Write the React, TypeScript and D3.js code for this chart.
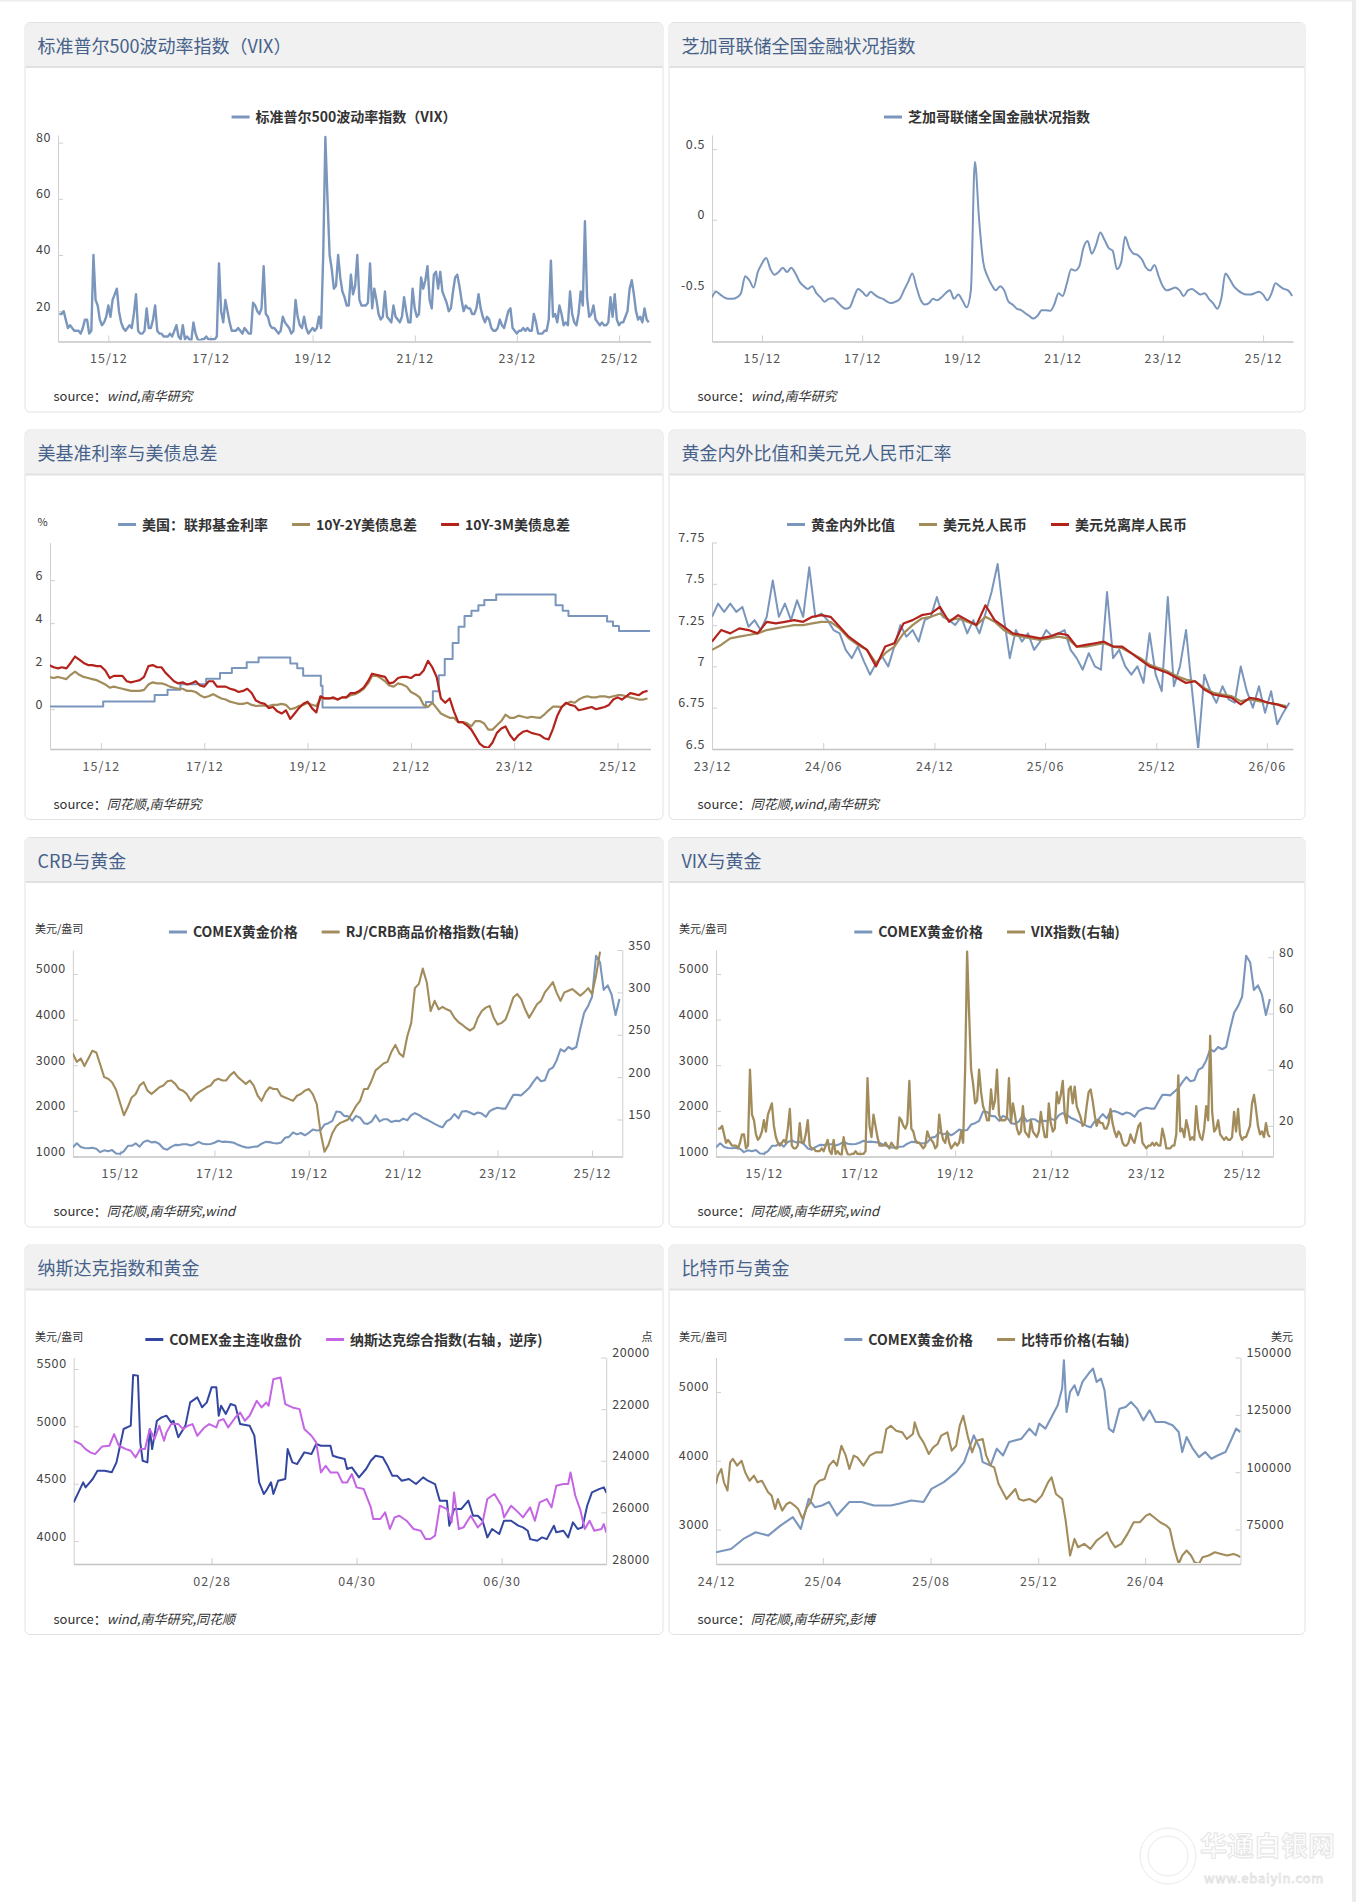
import { useEffect, useRef } from 'react';
import * as d3 from 'd3';

type Pt = [Date, number];

// ---------- data ----------

// VIX, roughly half-monthly from 2014-12-16
const vixHalfMonth = [
  19,
  19, 20, 17, 14, 15, 14, 13, 13, 13, 12, 14, 17, 17, 12, 13, 40, 24, 22, 17, 15, 16, 18, 22, 18,
  24, 26, 28, 20, 16, 14, 13, 14, 15, 14, 19, 26, 13, 12, 12, 13, 21, 14, 14, 17, 22, 13, 12, 12,
  11, 11, 11, 12, 11, 13, 15, 11, 10, 15, 10, 11, 10, 9.5, 16, 12, 10, 9.5, 10, 10, 11, 10, 10, 10,
  10, 11, 37, 20, 16, 24, 20, 16, 13, 13, 13, 14, 13, 12, 14, 13, 12, 12, 23, 22, 20, 19, 21, 36,
  19, 18, 15, 14, 14, 13, 12, 13, 18, 16, 15, 14, 12, 13, 24, 18, 15, 14, 18, 14, 12, 13, 14, 13,
  14, 18, 14, 40, 82, 60, 40, 35, 28, 29, 40, 32, 27, 25, 22, 22, 33, 26, 29, 40, 24, 22, 22, 22,
  23, 37, 21, 28, 24, 19, 17, 18, 27, 18, 17, 16, 22, 18, 17, 16, 18, 25, 20, 16, 16, 28, 21, 18,
  19, 32, 28, 31, 36, 24, 21, 33, 34, 28, 34, 27, 25, 23, 20, 21, 27, 32, 33, 29, 24, 20, 22, 21,
  21, 19, 19, 21, 26, 21, 18, 16, 18, 17, 14, 13, 13, 14, 17, 15, 14, 17, 20, 21, 14, 13, 12, 13,
  13, 14, 13, 14, 13, 13, 19, 16, 12, 12, 12, 13, 13, 17, 38, 18, 19, 16, 22, 19, 15, 16, 15, 27,
  19, 16, 15, 19, 27, 22, 52, 25, 18, 19, 22, 17, 16, 15, 16, 15, 15, 16, 25, 18, 26, 17, 15, 16,
  16, 18, 20, 28, 31, 26, 20, 17, 18, 16, 21, 17, 16,
];

// Chicago Fed NFCI, monthly from 2014-12
const nfciMonthly = [
  -0.55, -0.51, -0.53, -0.55, -0.56, -0.56, -0.55, -0.52, -0.40, -0.43, -0.48, -0.37,
  -0.31, -0.27, -0.35, -0.39, -0.37, -0.34, -0.37, -0.34, -0.38, -0.44, -0.47, -0.49,
  -0.47, -0.52, -0.55, -0.58, -0.56, -0.555, -0.58, -0.61, -0.63, -0.62, -0.55, -0.49,
  -0.51, -0.54, -0.51, -0.53, -0.55, -0.56, -0.58, -0.59, -0.58, -0.56, -0.50, -0.44,
  -0.38, -0.48, -0.57, -0.60, -0.59, -0.56, -0.57, -0.55, -0.52, -0.50, -0.56, -0.53,
  -0.57, -0.62, -0.50, 0.41, 0.0, -0.30, -0.40, -0.46, -0.50, -0.47, -0.50, -0.58,
  -0.60, -0.63, -0.64, -0.66, -0.68, -0.70, -0.68, -0.64, -0.64, -0.645, -0.60, -0.52,
  -0.54, -0.45, -0.35, -0.36, -0.33, -0.20, -0.15, -0.24, -0.18, -0.09, -0.14, -0.20,
  -0.22, -0.35, -0.30, -0.12, -0.20, -0.24, -0.25, -0.28, -0.34, -0.36, -0.32, -0.40,
  -0.47, -0.50, -0.49, -0.48, -0.50, -0.54, -0.50, -0.49, -0.51, -0.53, -0.52, -0.56,
  -0.59, -0.63, -0.55, -0.38, -0.42, -0.47, -0.50, -0.52, -0.53, -0.53, -0.52, -0.51,
  -0.53, -0.57, -0.52, -0.45, -0.47, -0.49, -0.50, -0.54,
];

// Fed funds rate: [change date, level]
const fedSteps: [string, number][] = [
  ['2014-12-01', 0.12], ['2015-12-17', 0.36], ['2016-12-15', 0.66], ['2017-03-16', 0.91],
  ['2017-06-15', 1.16], ['2017-12-14', 1.42], ['2018-03-22', 1.68], ['2018-06-14', 1.91],
  ['2018-09-27', 2.18], ['2018-12-20', 2.40], ['2019-08-01', 2.13], ['2019-09-19', 1.90],
  ['2019-10-31', 1.55], ['2020-03-04', 1.09], ['2020-03-16', 0.08], ['2022-03-17', 0.33],
  ['2022-05-05', 0.83], ['2022-06-16', 1.58], ['2022-07-28', 2.33], ['2022-09-22', 3.08],
  ['2022-11-03', 3.83], ['2022-12-15', 4.33], ['2023-02-02', 4.58], ['2023-03-23', 4.83],
  ['2023-05-04', 5.08], ['2023-07-27', 5.33], ['2024-09-19', 4.83], ['2024-11-08', 4.58],
  ['2024-12-19', 4.33], ['2025-09-18', 4.08], ['2025-10-30', 3.87], ['2025-12-11', 3.64],
  ['2026-07-20', 3.64],
];

// 10Y-2Y spread, monthly from 2014-12
const spread2y = [
  1.5,
  1.45, 1.5, 1.45, 1.4, 1.6, 1.75, 1.6, 1.5, 1.45, 1.4, 1.35, 1.25,
  1.15, 1.0, 1.05, 1.0, 0.95, 0.9, 0.85, 0.85, 0.85, 0.9, 1.15, 1.25,
  1.2, 1.2, 1.15, 1.05, 1.0, 0.95, 0.95, 0.85, 0.85, 0.8, 0.65, 0.55,
  0.6, 0.7, 0.6, 0.5, 0.45, 0.35, 0.3, 0.25, 0.25, 0.3, 0.2, 0.15,
  0.17, 0.17, 0.15, 0.2, 0.2, 0.25, 0.2, 0.0, 0.05, 0.15, 0.2, 0.3,
  0.2, 0.15, 0.5, 0.5, 0.5, 0.5, 0.45, 0.55, 0.55, 0.65, 0.7, 0.8,
  0.95, 1.2, 1.55, 1.55, 1.45, 1.3, 1.1, 1.05, 1.2, 1.15, 1.05, 0.8,
  0.7, 0.55, 0.2, 0.1, 0.3, 0.05, -0.2, -0.3, -0.4, -0.4, -0.6, -0.6,
  -0.65, -0.8, -0.55, -0.55, -0.65, -0.95, -0.95, -0.75, -0.55, -0.25, -0.4, -0.4,
  -0.3, -0.35, -0.4, -0.35, -0.38, -0.4, -0.25, -0.05, 0.12, 0.12, 0.1, 0.25,
  0.35, 0.3, 0.45, 0.55, 0.6, 0.55, 0.55, 0.6, 0.6, 0.55, 0.6, 0.65,
  0.65, 0.6, 0.55, 0.5, 0.45, 0.45, 0.5,
];

// 10Y-3M spread, monthly from 2014-12
const spread3m = [
  2.05,
  1.95, 1.9, 1.95, 1.9, 2.15, 2.45, 2.3, 2.15, 2.05, 2.05, 2.0, 2.0,
  1.8, 1.45, 1.55, 1.55, 1.55, 1.3, 1.25, 1.3, 1.35, 1.5, 2.0, 2.05,
  1.95, 1.95, 1.7, 1.5, 1.3, 1.2, 1.25, 1.15, 1.2, 1.3, 1.1, 1.05,
  1.3, 1.3, 1.05, 1.05, 1.05, 0.95, 0.9, 0.8, 0.85, 0.95, 0.75, 0.4,
  0.3, 0.25, 0.05, 0.1, -0.1, -0.2, -0.05, -0.45, -0.2, 0.05, 0.25, 0.35,
  0.05, -0.15, 0.6, 0.5, 0.5, 0.55, 0.45, 0.55, 0.55, 0.75, 0.75, 0.85,
  1.0, 1.3, 1.65, 1.6, 1.55, 1.5, 1.2, 1.25, 1.45, 1.5, 1.5, 1.45,
  1.6, 1.6, 1.8, 2.25, 1.95, 1.5, 0.5, 0.3, 0.5, -0.1, -0.6, -0.6,
  -0.75, -0.95, -1.25, -1.6, -1.75, -1.8, -1.55, -1.1, -0.9, -0.8, -1.2, -1.45,
  -1.2, -1.05, -1.0, -1.1, -1.15, -1.2, -1.35, -1.4, -0.9, -0.3, 0.1, 0.3,
  0.2, 0.15, -0.05, 0.0, 0.05, 0.1, 0.0, 0.05, 0.1, 0.2, 0.45, 0.55,
  0.45, 0.6, 0.75, 0.7, 0.65, 0.8, 0.85,
];

// gold domestic/overseas ratio, every 10 days from 2023-12-01
const goldRatio = [
  7.3, 7.38, 7.33, 7.38, 7.33, 7.36, 7.24, 7.28, 7.22, 7.3,
  7.52, 7.3, 7.38, 7.28, 7.4, 7.3, 7.6, 7.3, 7.32, 7.28,
  7.22, 7.2, 7.1, 7.05, 7.12, 7.03, 6.95, 7.02, 7.06, 7.0,
  7.12, 7.25, 7.18, 7.22, 7.15, 7.28, 7.3, 7.42, 7.3, 7.28,
  7.25, 7.3, 7.2, 7.28, 7.2, 7.32, 7.45, 7.62, 7.3, 7.05,
  7.22, 7.15, 7.2, 7.1, 7.15, 7.22, 7.18, 7.2, 7.22, 7.1,
  7.05, 6.98, 7.08, 7.0, 6.98, 7.45, 7.05, 7.1, 7.0, 6.95,
  7.0, 6.9, 7.2, 6.95, 6.85, 7.42, 6.88, 7.0, 7.22, 6.85,
  6.5, 6.95, 6.85, 6.78, 6.88, 6.8, 6.78, 7.0, 6.85, 6.75,
  6.88, 6.72, 6.85, 6.65, 6.72, 6.78,
];

// USD/CNY and USD/CNH, every 15 days from 2023-12-01
const usdCny = [
  7.1, 7.13, 7.17, 7.18, 7.19, 7.2, 7.22, 7.23, 7.24, 7.25,
  7.25, 7.26, 7.27, 7.27, 7.23, 7.17, 7.13, 7.1, 7.02, 7.08,
  7.12, 7.2, 7.25, 7.29, 7.3, 7.32, 7.28, 7.29, 7.27, 7.25,
  7.3, 7.27, 7.22, 7.19, 7.18, 7.17, 7.16, 7.17, 7.18, 7.17,
  7.12, 7.12, 7.13, 7.14, 7.12, 7.11, 7.08, 7.05, 7.01, 6.99,
  6.97, 6.94, 6.92, 6.91, 6.87, 6.84, 6.83, 6.82, 6.79, 6.8,
  6.79, 6.78, 6.77, 6.76,
];
const usdCnh = [
  7.15, 7.22, 7.2, 7.23, 7.22, 7.2, 7.27, 7.26, 7.27, 7.28,
  7.27, 7.3, 7.31, 7.3, 7.24, 7.18, 7.14, 7.1, 7.0, 7.12,
  7.14, 7.26, 7.28, 7.31, 7.32, 7.36, 7.27, 7.31, 7.28, 7.25,
  7.37, 7.28, 7.24, 7.2, 7.19, 7.18, 7.17, 7.18, 7.2, 7.19,
  7.12, 7.13, 7.14, 7.15, 7.12, 7.12, 7.08, 7.04, 7.0, 6.98,
  6.96, 6.93, 6.9, 6.91, 6.86, 6.83, 6.82, 6.81, 6.77, 6.81,
  6.8, 6.78, 6.77, 6.75,
];

// COMEX gold, monthly from 2014-12
const goldMonthly = [
  1200,
  1290, 1210, 1185, 1180, 1190, 1170, 1095, 1135, 1115, 1140, 1065, 1060,
  1120, 1235, 1235, 1290, 1215, 1320, 1350, 1310, 1320, 1275, 1175, 1150,
  1210, 1255, 1250, 1270, 1270, 1240, 1270, 1320, 1280, 1270, 1275, 1300,
  1345, 1320, 1325, 1315, 1300, 1255, 1225, 1200, 1195, 1215, 1220, 1280,
  1320, 1315, 1295, 1285, 1305, 1410, 1430, 1525, 1485, 1515, 1465, 1520,
  1590, 1570, 1580, 1700, 1730, 1780, 1985, 1975, 1890, 1880, 1780, 1890,
  1850, 1730, 1715, 1770, 1905, 1770, 1815, 1815, 1755, 1785, 1775, 1830,
  1795, 1905, 1950, 1910, 1850, 1810, 1765, 1715, 1670, 1640, 1770, 1820,
  1930, 1835, 1985, 1995, 1965, 1920, 1965, 1940, 1870, 1995, 2040, 2070,
  2050, 2050, 2200, 2350, 2350, 2340, 2420, 2500, 2630, 2740, 2650, 2670,
  2900, 2950, 3100, 3350, 3300, 3400, 3350, 3400, 3800, 4150, 4300, 4500,
  5400, 5250, 4650, 4750, 4550, 4100, 4450,
];

// RJ/CRB index, monthly from 2014-12
const crbMonthly = [
  228,
  218, 222, 213, 222, 231, 229, 215, 200, 198, 194, 185, 170,
  155, 165, 176, 180, 190, 194, 184, 180, 184, 188, 190, 195,
  196, 192, 186, 184, 180, 172, 178, 182, 185, 188, 190, 196,
  198, 196, 196, 202, 206, 200, 196, 192, 196, 190, 178, 172,
  182, 188, 186, 186, 178, 176, 174, 172, 178, 180, 184, 186,
  180, 168, 135, 112, 120, 134, 142, 146, 148, 150, 158, 166,
  172, 186, 186, 196, 208, 212, 216, 218, 230, 238, 228, 224,
  248, 264, 305, 310, 328, 312, 278, 290, 280, 283, 280, 278,
  270, 265, 262, 258, 255, 258, 270, 278, 282, 284, 270, 262,
  264, 268, 280, 294, 298, 292, 280, 270, 278, 286, 290, 300,
  306, 312, 300, 290, 300, 302, 304, 300, 296, 300, 305, 298,
  320, 348,
];

// 2026 daily closes: [day since 2026-01-01, value]
const comexMain2026: [number, number][] = [
  [0, 4337], [2, 4424], [4, 4512], [5, 4468], [8, 4541], [10, 4613], [13, 4613], [16, 4599], [18, 4686], [21, 4977],
  [24, 5006], [25, 5448], [27, 5442], [28, 4860], [29, 4700], [31, 4686], [32, 4977], [33, 4802], [35, 5049], [37, 5078],
  [39, 5093], [41, 5035], [42, 5049], [44, 4904], [47, 5006], [49, 5209], [52, 5253], [54, 5166], [56, 5209], [58, 5340],
  [60, 5340], [61, 5093], [62, 5180], [64, 5108], [66, 5195], [68, 5180], [70, 5020], [74, 5006], [76, 4919], [78, 4512],
  [80, 4410], [81, 4439], [83, 4512], [84, 4410], [86, 4526], [89, 4541], [90, 4802], [92, 4686], [94, 4671], [97, 4773],
  [100, 4758], [102, 4846], [104, 4831], [108, 4831], [109, 4744], [111, 4730], [114, 4715], [115, 4628], [117, 4642], [120, 4555],
  [123, 4628], [125, 4700], [127, 4744], [130, 4730], [132, 4657], [134, 4570], [136, 4570], [138, 4526], [141, 4541], [144, 4497],
  [147, 4555], [149, 4526], [152, 4497], [154, 4352], [157, 4352], [158, 4134], [160, 4279], [163, 4279], [166, 4352], [168, 4221],
  [170, 4221], [172, 4177], [174, 4032], [176, 4105], [179, 4061], [181, 4177], [184, 4177], [187, 4134], [189, 4119], [191, 4090],
  [192, 4017], [195, 4003], [197, 4032], [199, 4017], [202, 4134], [203, 4076], [206, 4090], [208, 4032], [210, 4163], [212, 4105],
  [214, 4119], [216, 4308], [218, 4424], [221, 4453], [223, 4468], [224, 4424], [225, 4439],
];
const nasdaq2026: [number, number][] = [
  [0, 23226], [3, 23355], [5, 23548], [7, 23677], [9, 23742], [12, 23445], [15, 23419], [17, 22968], [19, 23419], [22, 23548],
  [24, 23613], [26, 23871], [28, 23548], [30, 23548], [32, 22774], [34, 23161], [36, 22645], [38, 23226], [39, 22903], [41, 22581],
  [44, 22581], [46, 22774], [48, 22645], [50, 22581], [52, 23032], [55, 22710], [57, 22581], [60, 22710], [61, 22452], [63, 22387],
  [65, 22710], [68, 22323], [70, 22129], [72, 22452], [74, 22258], [77, 21677], [79, 21935], [81, 21742], [82, 21871], [84, 20839],
  [87, 20774], [89, 21806], [92, 21935], [95, 22000], [97, 22774], [100, 23032], [102, 23290], [104, 24452], [106, 24194], [108, 24452],
  [111, 24452], [113, 24839], [115, 24839], [117, 24516], [119, 25032], [122, 25097], [125, 25806], [126, 26258], [129, 26258], [131, 26000],
  [133, 26645], [135, 26194], [137, 26129], [140, 26323], [143, 26645], [146, 26710], [148, 27032], [150, 27032], [152, 26903], [154, 25742],
  [157, 25871], [159, 26387], [160, 25226], [162, 26645], [164, 26581], [167, 26129], [170, 26581], [172, 26387], [174, 25484], [177, 25290],
  [180, 25742], [181, 26194], [184, 25742], [187, 26000], [189, 26194], [192, 25806], [194, 26323], [196, 25613], [199, 25484], [201, 25806],
  [203, 24968], [206, 24903], [208, 24903], [209, 24452], [211, 25355], [213, 25871], [215, 26645], [217, 26323], [219, 26710], [222, 26645],
  [223, 26452], [224, 26774],
];

// since 2024-12-01: [day, value]
const goldSince2024: [number, number][] = [
  [0, 2670], [17, 2718], [31, 2864], [45, 2961], [59, 2913], [73, 3058], [87, 3180], [96, 3010], [105, 3447], [112, 3325],
  [120, 3350], [128, 3400], [137, 3204], [151, 3400], [165, 3400], [179, 3350], [198, 3350], [207, 3374], [221, 3422], [235, 3400],
  [244, 3592], [258, 3690], [272, 3835], [281, 3980], [292, 4369], [299, 4175], [302, 3980], [311, 3932], [318, 4175], [325, 4077],
  [332, 4272], [346, 4320], [355, 4466], [362, 4369], [366, 4539], [373, 4466], [380, 4636], [387, 4806], [392, 5049], [394, 5461],
  [397, 4709], [401, 5000], [406, 5097], [410, 4951], [415, 5146], [422, 5267], [427, 5340], [431, 5146], [436, 5194], [440, 5024],
  [445, 4466], [450, 4417], [457, 4757], [464, 4782], [470, 4854], [477, 4757], [484, 4587], [491, 4733], [498, 4563], [508, 4563],
  [517, 4515], [524, 4417], [528, 4126], [533, 4345], [540, 4175], [547, 4053], [554, 4126], [561, 4029], [568, 4077], [577, 4126],
  [584, 4320], [589, 4466], [594, 4417],
];
const btcSince2024: [number, number][] = [
  [0, 94880], [2, 98500], [6, 101400], [9, 95600], [13, 92000], [16, 104300], [19, 105800], [24, 102900], [29, 105000], [33, 100000],
  [38, 96300], [43, 98500], [47, 95600], [52, 96300], [59, 91250], [63, 89800], [67, 84000], [70, 88350], [75, 83270], [80, 86170],
  [84, 86900], [89, 85450], [93, 84000], [98, 79640], [103, 84720], [107, 86900], [112, 94150], [117, 96300], [123, 97050], [128, 102860],
  [133, 105040], [137, 102860], [142, 111560], [147, 107210], [151, 101400], [156, 107210], [160, 106490], [167, 102860], [174, 107210], [181, 108660],
  [188, 108660], [193, 118820], [198, 120270], [204, 118100], [211, 117370], [216, 114470], [223, 116640], [225, 121720], [230, 115920], [235, 113010],
  [241, 107940], [246, 110840], [251, 112290], [255, 115920], [262, 117370], [267, 109390], [272, 111560], [276, 120270], [280, 124620], [285, 115920],
  [290, 108660], [295, 113740], [302, 114470], [306, 107210], [311, 102860], [315, 102130], [320, 94880], [325, 91250], [329, 88350], [334, 90530],
  [339, 92700], [343, 88350], [348, 87620], [355, 88350], [362, 86900], [369, 89800], [376, 95600], [380, 97780], [385, 90530], [392, 88350],
  [396, 78920], [401, 63700], [406, 70940], [410, 67310], [417, 68760], [424, 66580], [431, 70210], [436, 71660], [443, 73840], [447, 70210],
  [452, 67310], [459, 68760], [466, 73110], [473, 78190], [480, 78190], [487, 81090], [491, 81820], [496, 80370], [503, 78190], [510, 76740],
  [514, 75290], [519, 66580], [524, 60050], [528, 63700], [533, 65860], [538, 63700], [542, 60780], [547, 60050], [551, 62950], [558, 63700],
  [565, 65130], [572, 64400], [579, 63700], [586, 64400], [591, 63700], [594, 62950],
];

// ---------- helpers ----------
const W = 1356;
const H = 1902;
const PANEL_H = 390.5;
const HEADER_H = 45;
const PLOT_TOP = 113;
const PLOT_BOTTOM = 319.5;
const FONT = '"Noto Sans CJK SC", "Noto Sans", sans-serif';

const STEEL = '#7a96bc';
const GOLD = '#a28c5c';
const RED = '#b3231c';
const NAVY = '#3447a0';
const ORCHID = '#c466e4';

const day = d3.timeParse('%Y-%m-%d');
const D = (s: string) => day(s)!;

const monthly = (start: string, vals: number[]): Pt[] =>
  vals.map((v, i) => [d3.timeMonth.offset(D(start), i), v]);
const spaced = (start: string, stepDays: number, vals: number[]): Pt[] =>
  vals.map((v, i) => [new Date(D(start).getTime() + i * stepDays * 864e5), v]);
const byDay = (start: string, pairs: [number, number][]): Pt[] =>
  pairs.map(([d, v]) => [d3.timeDay.offset(D(start), d), v]);

type AxisSpec = { domain: [number, number]; ticks: number[] };
type SeriesSpec = { pts: Pt[]; color: string; axis?: 'R'; width?: number; curve?: d3.CurveFactory };
type PanelSpec = {
  x: number; y: number; w: number;
  title: string;
  legend: [string, string][];
  left: number; right: number;
  xDomain: [Date, Date]; xTicks: Date[]; xFmt: string;
  yL: AxisSpec; yR?: AxisSpec;
  series: SeriesSpec[];
  unitL?: string; unitR?: string; unitRx?: number;
  source: string;
};

const longTicks = ['2015-12-01', '2017-12-01', '2019-12-01', '2021-12-01', '2023-12-01', '2025-12-01'].map(D);

const LX = 24.5, LW = 639, RX = 668.5, RW = 637;
const ROWS = [22, 429.5, 837, 1244.5];

function panels(): PanelSpec[] {
  const vix = spaced('2014-12-16', 365.25 / 24, vixHalfMonth);
  const gold = monthly('2014-12-01', goldMonthly);
  return [
    {
      x: LX, y: ROWS[0], w: LW, title: '标准普尔500波动率指数（VIX）',
      legend: [['标准普尔500波动率指数（VIX）', STEEL]],
      left: 33.5, right: 626,
      xDomain: [D('2014-12-06'), D('2026-07-14')], xTicks: longTicks, xFmt: '%y/%m',
      yL: { domain: [9.2, 82.7], ticks: [20, 40, 60, 80] },
      series: [{ pts: vix, color: STEEL, width: 2.4 }],
      source: 'wind,南华研究',
    },
    {
      x: RX, y: ROWS[0], w: RW, title: '芝加哥联储全国金融状况指数',
      legend: [['芝加哥联储全国金融状况指数', STEEL]],
      left: 43.5, right: 624.5,
      xDomain: [D('2014-12-02'), D('2026-07-07')], xTicks: longTicks, xFmt: '%y/%m',
      yL: { domain: [-0.862, 0.6], ticks: [-0.5, 0, 0.5] },
      series: [{ pts: monthly('2014-12-01', nfciMonthly), color: STEEL, width: 2, curve: d3.curveMonotoneX }],
      source: 'wind,南华研究',
    },
    {
      x: LX, y: ROWS[1], w: LW, title: '美基准利率与美债息差',
      legend: [['美国：联邦基金利率', STEEL], ['10Y-2Y美债息差', GOLD], ['10Y-3M美债息差', RED]],
      left: 25.5, right: 626,
      xDomain: [D('2014-12-06'), D('2026-07-22')], xTicks: longTicks, xFmt: '%y/%m',
      yL: { domain: [-1.85, 7.75], ticks: [0, 2, 4, 6] },
      series: [
        { pts: fedSteps.map(([d, v]) => [D(d), v] as Pt), color: STEEL, width: 2, curve: d3.curveStepAfter },
        { pts: monthly('2014-12-01', spread2y), color: GOLD, width: 2.2 },
        { pts: monthly('2014-12-01', spread3m), color: RED, width: 2.2 },
      ],
      unitL: '%',
      source: '同花顺,南华研究',
    },
    {
      x: RX, y: ROWS[1], w: RW, title: '黄金内外比值和美元兑人民币汇率',
      legend: [['黄金内外比值', STEEL], ['美元兑人民币', GOLD], ['美元兑离岸人民币', RED]],
      left: 43.5, right: 624.5,
      xDomain: [D('2023-12-01'), D('2026-07-14')],
      xTicks: ['2023-12-01', '2024-06-01', '2024-12-01', '2025-06-01', '2025-12-01', '2026-06-01'].map(D),
      xFmt: '%y/%m',
      yL: { domain: [6.5, 7.75], ticks: [6.5, 6.75, 7, 7.25, 7.5, 7.75] },
      series: [
        { pts: spaced('2023-12-01', 10, goldRatio), color: STEEL, width: 2 },
        { pts: spaced('2023-12-01', 15, usdCny), color: GOLD, width: 2.2 },
        { pts: spaced('2023-12-01', 15, usdCnh), color: RED, width: 2.2 },
      ],
      source: '同花顺,wind,南华研究',
    },
    {
      x: LX, y: ROWS[2], w: LW, title: 'CRB与黄金',
      legend: [['COMEX黄金价格', STEEL], ['RJ/CRB商品价格指数(右轴)', GOLD]],
      left: 48.4, right: 597.8,
      xDomain: [D('2014-12-02'), D('2026-07-23')], xTicks: longTicks, xFmt: '%y/%m',
      yL: { domain: [1000, 5525], ticks: [1000, 2000, 3000, 4000, 5000] },
      yR: { domain: [106.3, 350], ticks: [150, 200, 250, 300, 350] },
      series: [
        { pts: gold, color: STEEL, width: 2.1 },
        { pts: monthly('2014-12-01', crbMonthly), color: GOLD, axis: 'R', width: 2.1 },
      ],
      unitL: '美元/盎司',
      source: '同花顺,南华研究,wind',
    },
    {
      x: RX, y: ROWS[2], w: RW, title: 'VIX与黄金',
      legend: [['COMEX黄金价格', STEEL], ['VIX指数(右轴)', GOLD]],
      left: 47.5, right: 604.5,
      xDomain: [D('2014-11-30'), D('2026-07-25')], xTicks: longTicks, xFmt: '%y/%m',
      yL: { domain: [1000, 5525], ticks: [1000, 2000, 3000, 4000, 5000] },
      yR: { domain: [9.1, 82.6], ticks: [20, 40, 60, 80] },
      series: [
        { pts: gold, color: STEEL, width: 2.1 },
        { pts: vix, color: GOLD, axis: 'R', width: 2.3 },
      ],
      unitL: '美元/盎司',
      source: '同花顺,南华研究,wind',
    },
    {
      x: LX, y: ROWS[3], w: LW, title: '纳斯达克指数和黄金',
      legend: [['COMEX金主连收盘价', NAVY], ['纳斯达克综合指数(右轴，逆序)', ORCHID]],
      left: 49.2, right: 581.7,
      xDomain: [D('2026-01-01'), D('2026-08-13')],
      xTicks: ['2026-02-28', '2026-04-30', '2026-06-30'].map(D), xFmt: '%m/%d',
      yL: { domain: [3800, 5600], ticks: [4000, 4500, 5000, 5500] },
      yR: { domain: [28000, 20000], ticks: [20000, 22000, 24000, 26000, 28000] },
      series: [
        { pts: byDay('2026-01-01', comexMain2026), color: NAVY, width: 2 },
        { pts: byDay('2026-01-01', nasdaq2026), color: ORCHID, axis: 'R', width: 2 },
      ],
      unitL: '美元/盎司', unitR: '点', unitRx: 622.5,
      source: 'wind,南华研究,同花顺',
    },
    {
      x: RX, y: ROWS[3], w: RW, title: '比特币与黄金',
      legend: [['COMEX黄金价格', STEEL], ['比特币价格(右轴)', GOLD]],
      left: 47.5, right: 572,
      xDomain: [D('2024-12-01'), D('2026-07-18')],
      xTicks: ['2024-12-01', '2025-04-01', '2025-08-01', '2025-12-01', '2026-04-01'].map(D), xFmt: '%y/%m',
      yL: { domain: [2500, 5500], ticks: [3000, 4000, 5000] },
      yR: { domain: [60000, 150000], ticks: [75000, 100000, 125000, 150000] },
      series: [
        { pts: byDay('2024-12-01', goldSince2024), color: STEEL, width: 2.1 },
        { pts: byDay('2024-12-01', btcSince2024), color: GOLD, axis: 'R', width: 2.1 },
      ],
      unitL: '美元/盎司', unitR: '美元', unitRx: 613.5,
      source: '同花顺,南华研究,彭博',
    },
  ];
}

function styleAxis(a: any) {
  a.attr('font-family', FONT).attr('font-size', 12.5);
  a.select('.domain').attr('stroke', '#cfcfcf');
  a.selectAll('.tick line').attr('stroke', '#cfcfcf');
  a.selectAll('.tick text').attr('fill', '#444').attr('letter-spacing', 0.6);
}

function drawPanel(root: any, p: PanelSpec, idx: number) {
  const g = root.append('g').attr('transform', `translate(${p.x},${p.y})`);
  const w = p.w;

  // frame + header
  g.append('rect').attr('x', 0.5).attr('y', 0.5).attr('width', w - 1).attr('height', PANEL_H - 1)
    .attr('rx', 5).attr('fill', '#fff').attr('stroke', '#e2e2e2');
  g.append('path')
    .attr('d', `M1,${HEADER_H}V5.5Q1,1 5.5,1H${w - 5.5}Q${w - 1},1 ${w - 1},5.5V${HEADER_H}Z`)
    .attr('fill', '#f1f1f1');
  g.append('line').attr('x1', 1).attr('x2', w - 1).attr('y1', HEADER_H).attr('y2', HEADER_H)
    .attr('stroke', '#e1e1e1').attr('stroke-width', 2);
  g.append('text').attr('x', 13).attr('y', 30.5).attr('font-size', 18).attr('fill', '#46628a').text(p.title);

  // legend, centred
  const lg = g.append('g');
  let cx = 0;
  p.legend.forEach(([label, color]) => {
    const it = lg.append('g').attr('transform', `translate(${cx},0)`);
    it.append('line').attr('x1', 0).attr('x2', 18).attr('y1', 95).attr('y2', 95)
      .attr('stroke', color).attr('stroke-width', 3);
    const t = it.append('text').attr('x', 24).attr('y', 100).attr('font-size', 14)
      .attr('font-weight', 'bold').attr('fill', '#333').text(label);
    cx += 24 + (t.node() as SVGTextElement).getComputedTextLength() + 24;
  });
  lg.attr('transform', `translate(${(w - (cx - 24)) / 2},0)`);

  // scales
  const x = d3.scaleTime().domain(p.xDomain).range([p.left, p.right]);
  const yL = d3.scaleLinear().domain(p.yL.domain).range([PLOT_BOTTOM, PLOT_TOP]);
  const yR = p.yR ? d3.scaleLinear().domain(p.yR.domain).range([PLOT_BOTTOM, PLOT_TOP]) : null;

  // axes
  const axL = g.append('g').attr('transform', `translate(${p.left},0)`)
    .call(d3.axisLeft(yL).tickValues(p.yL.ticks).tickFormat((v: any) => String(v))
      .tickSize(-5).tickSizeOuter(0).tickPadding(7));
  styleAxis(axL);
  axL.selectAll('.tick text').attr('dy', '-0.08em');

  if (yR && p.yR) {
    const axR = g.append('g').attr('transform', `translate(${p.right},0)`)
      .call(d3.axisRight(yR).tickValues(p.yR.ticks).tickFormat((v: any) => String(v))
        .tickSize(-5).tickSizeOuter(0).tickPadding(6));
    styleAxis(axR);
    axR.selectAll('.tick text').attr('dy', '-0.08em');
  }

  const fmt = d3.timeFormat(p.xFmt);
  const axX = g.append('g').attr('transform', `translate(0,${PLOT_BOTTOM})`)
    .call(d3.axisBottom(x).tickValues(p.xTicks).tickFormat((d: any) => fmt(d))
      .tickSize(-6).tickSizeOuter(0).tickPadding(13));
  styleAxis(axX);
  axX.select('.domain').attr('stroke', '#c4c4c4').attr('stroke-width', 1.5);
  axX.selectAll('.tick text').attr('letter-spacing', 1).attr('fill', '#555');

  // series
  const cid = `plotclip${idx}`;
  g.append('clipPath').attr('id', cid).append('rect')
    .attr('x', p.left).attr('y', PLOT_TOP - 2)
    .attr('width', p.right - p.left).attr('height', PLOT_BOTTOM - PLOT_TOP + 1);
  p.series.forEach((s) => {
    const ys = s.axis === 'R' && yR ? yR : yL;
    const line = d3.line<Pt>().x((d) => x(d[0])).y((d) => ys(d[1])).curve(s.curve ?? d3.curveLinear);
    g.append('path').attr('clip-path', `url(#${cid})`).attr('d', line(s.pts))
      .attr('fill', 'none').attr('stroke', s.color).attr('stroke-width', s.width ?? 1.8)
      .attr('stroke-linejoin', 'round');
  });

  // units
  if (p.unitL) {
    g.append('text').attr('x', p.unitL === '%' ? 13 : 10.5).attr('y', 96)
      .attr('font-size', 11).attr('fill', '#333').text(p.unitL);
  }
  if (p.unitR) {
    g.append('text').attr('x', p.unitRx ?? w - 20).attr('y', 96).attr('text-anchor', 'middle')
      .attr('font-size', 11).attr('fill', '#333').text(p.unitR);
  }

  // source
  const src = g.append('text').attr('x', 29).attr('y', 379).attr('font-size', 13).attr('fill', '#333');
  src.append('tspan').text('source：');
  src.append('tspan').attr('font-style', 'italic').text(p.source);
}

function drawWatermark(svg: any) {
  const wm = svg.append('g').attr('fill', '#fcfcfc').attr('stroke', '#e2e2e2').attr('stroke-width', 0.8);
  wm.append('circle').attr('cx', 1168).attr('cy', 1856).attr('r', 28).attr('fill', 'none');
  wm.append('circle').attr('cx', 1168).attr('cy', 1856).attr('r', 20).attr('fill', 'none');
  wm.append('text').attr('x', 1200).attr('y', 1856).attr('font-size', 27).attr('font-weight', 'bold').text('华通白银网');
  wm.append('text').attr('x', 1204).attr('y', 1883).attr('font-size', 13).attr('letter-spacing', 0.8).text('www.ebaiyin.com');
}

export default function App() {
  const ref = useRef<SVGSVGElement>(null);
  useEffect(() => {
    const svg = d3.select(ref.current!);
    svg.selectAll('*').remove();
    svg.attr('font-family', FONT);
    svg.append('rect').attr('width', W).attr('height', H).attr('fill', '#fff');
    svg.append('rect').attr('x', W - 4).attr('width', 4).attr('height', H).attr('fill', '#ececec');
    svg.append('rect').attr('width', W).attr('height', 1.5).attr('fill', '#eeeeee');
    panels().forEach((p, i) => drawPanel(svg, p, i));
    drawWatermark(svg);
  }, []);
  return (
    <svg ref={ref} width={W} height={H} style={{ position: 'absolute', left: 0, top: 0 }} />
  );
}
